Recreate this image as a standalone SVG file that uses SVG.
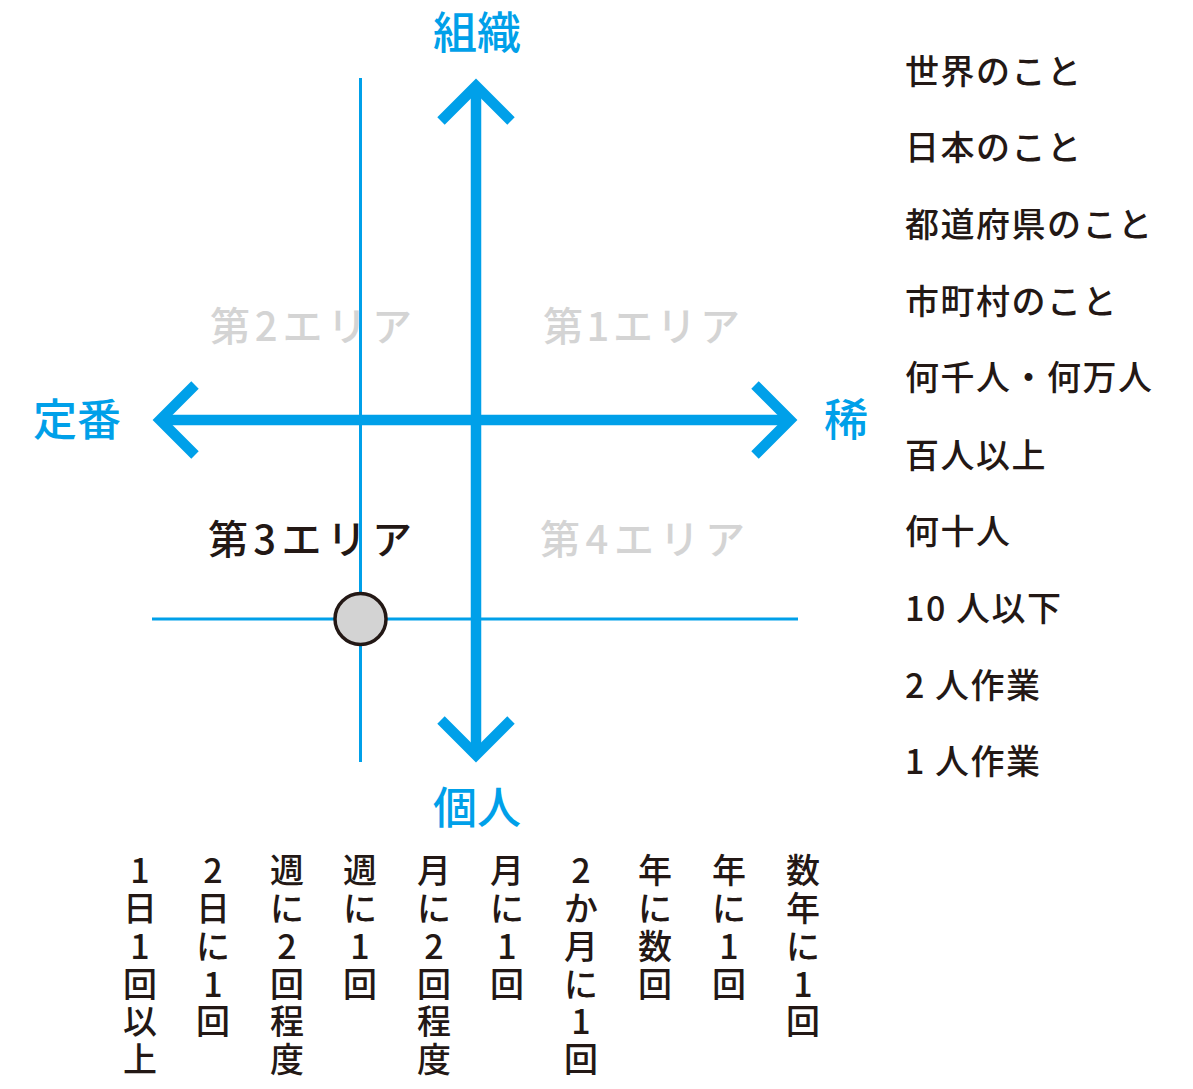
<svg xmlns="http://www.w3.org/2000/svg" width="1193" height="1089" viewBox="0 0 1193 1089">
<style>
text{font-family:"Noto Sans CJK JP","Noto Sans",sans-serif;}
.ax{fill:#00a0e9;font-size:44px;font-weight:500;text-anchor:middle;}
.q{font-size:40px;font-weight:500;}
.qg{fill:#d4d4d4;}
.qd{fill:#231815;}
.lst{fill:#231815;font-size:34px;font-weight:500;letter-spacing:1.5px;}
.col{fill:#231815;font-size:34px;font-weight:500;text-anchor:middle;}
.thick{stroke:#00a0e9;stroke-width:10.5;fill:none;stroke-linejoin:miter;stroke-miterlimit:10;}
.thin{stroke:#00a0e9;stroke-width:3;fill:none;}
</style>
<rect width="1193" height="1089" fill="#ffffff"/>
<g id="connectors">
<line class="thin" x1="360.5" y1="78" x2="360.5" y2="762"/>
<line class="thin" x1="152" y1="619" x2="798" y2="619"/>
<line class="thick" x1="160" y1="420" x2="790" y2="420"/>
<line class="thick" x1="476" y1="86" x2="476" y2="755"/>
<polyline class="thick" points="195,385 160,420 195,455"/>
<polyline class="thick" points="755,385 790,420 755,455"/>
<polyline class="thick" points="441,121 476,86 511,121"/>
<polyline class="thick" points="441,720 476,755 511,720"/>
</g>
<g id="point"><circle cx="360.5" cy="619" r="25.5" fill="#d3d3d3" stroke="#231815" stroke-width="3.5"/></g>
<g id="axis-labels">
<text class="ax" x="477" y="49">組織</text>
<text class="ax" x="477" y="824">個人</text>
<text class="ax" x="77" y="436">定番</text>
<text class="ax" x="846" y="436">稀</text>
</g>
<g id="quadrants">
<text class="q qg" x="210" y="341" textLength="202" lengthAdjust="spacing">第2エリア</text>
<text class="q qg" x="543" y="341" textLength="197" lengthAdjust="spacing">第1エリア</text>
<text class="q qd" x="208" y="554" textLength="204" lengthAdjust="spacing">第3エリア</text>
<text class="q qg" x="540" y="554" textLength="205" lengthAdjust="spacing">第4エリア</text>
</g>
<g id="scale-list">
<text class="lst" x="905" y="84">世界のこと</text>
<text class="lst" x="905" y="160">日本のこと</text>
<text class="lst" x="905" y="237">都道府県のこと</text>
<text class="lst" x="905" y="314">市町村のこと</text>
<text class="lst" x="905" y="390" letter-spacing="2.8">何千人・何万人</text>
<text class="lst" x="905" y="468">百人以上</text>
<text class="lst" x="905" y="544">何十人</text>
<text class="lst" x="905" y="621">10 人以下</text>
<text class="lst" x="905" y="698">2 人作業</text>
<text class="lst" x="905" y="774">1 人作業</text>
</g>
<g id="frequency">
<text class="col"><tspan x="140" y="883">1</tspan><tspan x="140" y="921">日</tspan><tspan x="140" y="959">1</tspan><tspan x="140" y="997">回</tspan><tspan x="140" y="1034">以</tspan><tspan x="140" y="1072">上</tspan></text>
<text class="col"><tspan x="213" y="883">2</tspan><tspan x="213" y="921">日</tspan><tspan x="213" y="959">に</tspan><tspan x="213" y="997">1</tspan><tspan x="213" y="1034">回</tspan></text>
<text class="col"><tspan x="287" y="883">週</tspan><tspan x="287" y="921">に</tspan><tspan x="287" y="959">2</tspan><tspan x="287" y="997">回</tspan><tspan x="287" y="1034">程</tspan><tspan x="287" y="1072">度</tspan></text>
<text class="col"><tspan x="360" y="883">週</tspan><tspan x="360" y="921">に</tspan><tspan x="360" y="959">1</tspan><tspan x="360" y="997">回</tspan></text>
<text class="col"><tspan x="434" y="883">月</tspan><tspan x="434" y="921">に</tspan><tspan x="434" y="959">2</tspan><tspan x="434" y="997">回</tspan><tspan x="434" y="1034">程</tspan><tspan x="434" y="1072">度</tspan></text>
<text class="col"><tspan x="507" y="883">月</tspan><tspan x="507" y="921">に</tspan><tspan x="507" y="959">1</tspan><tspan x="507" y="997">回</tspan></text>
<text class="col"><tspan x="581" y="883">2</tspan><tspan x="581" y="921">か</tspan><tspan x="581" y="959">月</tspan><tspan x="581" y="997">に</tspan><tspan x="581" y="1034">1</tspan><tspan x="581" y="1072">回</tspan></text>
<text class="col"><tspan x="655" y="883">年</tspan><tspan x="655" y="921">に</tspan><tspan x="655" y="959">数</tspan><tspan x="655" y="997">回</tspan></text>
<text class="col"><tspan x="729" y="883">年</tspan><tspan x="729" y="921">に</tspan><tspan x="729" y="959">1</tspan><tspan x="729" y="997">回</tspan></text>
<text class="col"><tspan x="803" y="883">数</tspan><tspan x="803" y="921">年</tspan><tspan x="803" y="959">に</tspan><tspan x="803" y="997">1</tspan><tspan x="803" y="1034">回</tspan></text>
</g>
</svg>
